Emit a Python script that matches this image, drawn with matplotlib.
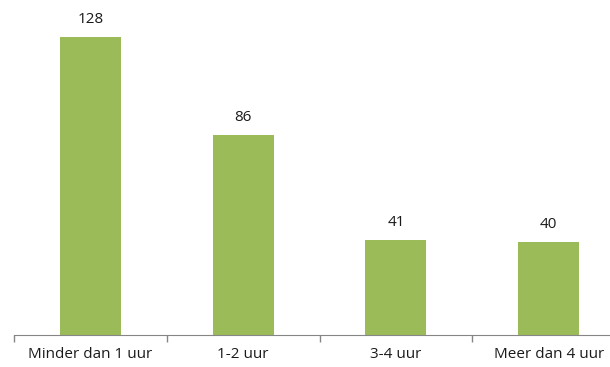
import numpy as np
import matplotlib.pyplot as plt

categories = ['Minder dan 1 uur', '1-2 uur', '3-4 uur', 'Meer dan 4 uur']
counts = [128, 86, 41, 40]

bar_color = '#9BBB59'
axis_color = '#868686'

fig = plt.figure(figsize=(6.10, 3.67), dpi=100)
ax = fig.add_axes([14/610, 32/367, 611/610, 326/367])

x = np.arange(len(categories))
bars = ax.bar(x, counts, width=0.4, color=bar_color)

for xi, v in zip(x, counts):
	ax.annotate(str(v), (xi, v), xytext=(0, 7), textcoords='offset points',
		ha='center', va='bottom', fontsize=11, family='Open Sans', color='#1a1a1a')

ax.set_xlim(-0.5, len(categories) - 0.5)
ax.set_ylim(0, 140)
ax.set_yticks([])

# labels under the bars, tick marks on the category borders
ax.set_xticks(x)
ax.set_xticklabels(categories, fontsize=11, family='Open Sans', color='#1a1a1a')
ax.tick_params(axis='x', which='major', length=0, pad=9)
ax.set_xticks(np.arange(-0.5, len(categories)), minor=True)
ax.tick_params(axis='x', which='minor', length=5, color=axis_color, width=1)

for side in ['top', 'right', 'left']:
	ax.spines[side].set_visible(False)
ax.spines['bottom'].set_color(axis_color)

fig.savefig('out.png', dpi=100, facecolor='white')
